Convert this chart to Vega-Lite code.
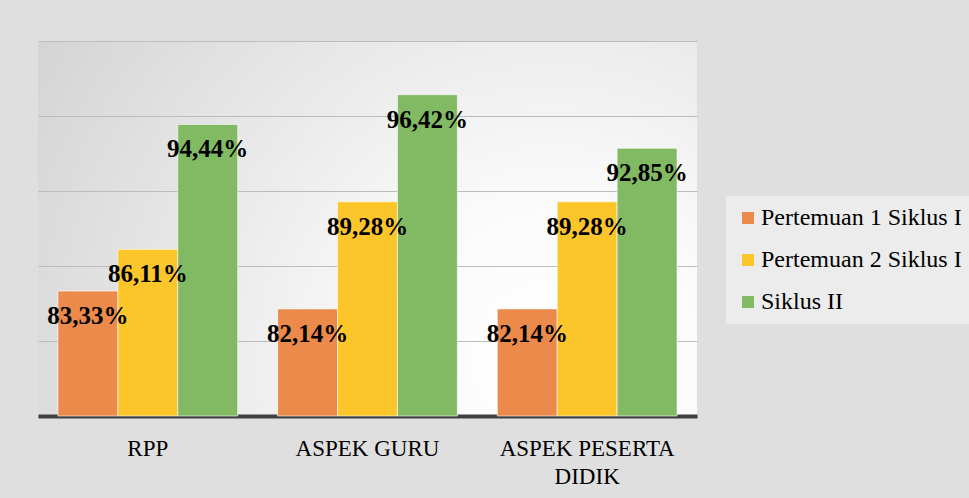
{
  "$schema": "https://vega.github.io/schema/vega-lite/v6.json",
  "width": 659,
  "height": 375,
  "autosize": {"type": "none"},
  "padding": {"left": 38, "top": 41, "right": 272, "bottom": 82},
  "background": "#dfdfdf",
  "view": {
    "stroke": null,
    "fill": {
      "gradient": "radial",
      "x1": 0.78, "y1": 0.7, "r1": 0,
      "x2": 0.78, "y2": 0.7, "r2": 0.95,
      "stops": [
        {"offset": 0, "color": "#ffffff"},
        {"offset": 0.25, "color": "#fbfbfb"},
        {"offset": 1, "color": "#d2d2d2"}
      ]
    }
  },
  "config": {"font": "Liberation Serif"},
  "data": {
    "values": [
      {"aspek": "RPP", "seri": "Pertemuan 1 Siklus I", "nilai": 83.33, "label": "83,33%"},
      {"aspek": "RPP", "seri": "Pertemuan 2 Siklus I", "nilai": 86.11, "label": "86,11%"},
      {"aspek": "RPP", "seri": "Siklus II", "nilai": 94.44, "label": "94,44%"},
      {"aspek": "ASPEK GURU", "seri": "Pertemuan 1 Siklus I", "nilai": 82.14, "label": "82,14%"},
      {"aspek": "ASPEK GURU", "seri": "Pertemuan 2 Siklus I", "nilai": 89.28, "label": "89,28%"},
      {"aspek": "ASPEK GURU", "seri": "Siklus II", "nilai": 96.42, "label": "96,42%"},
      {"aspek": "ASPEK PESERTA DIDIK", "seri": "Pertemuan 1 Siklus I", "nilai": 82.14, "label": "82,14%"},
      {"aspek": "ASPEK PESERTA DIDIK", "seri": "Pertemuan 2 Siklus I", "nilai": 89.28, "label": "89,28%"},
      {"aspek": "ASPEK PESERTA DIDIK", "seri": "Siklus II", "nilai": 92.85, "label": "92,85%"}
    ]
  },
  "encoding": {
    "x": {
      "field": "aspek", "type": "nominal", "sort": ["RPP", "ASPEK GURU", "ASPEK PESERTA DIDIK"],
      "scale": {"paddingInner": 0.1818, "paddingOuter": 0.0909},
      "axis": {
        "title": null, "domain": true, "domainColor": "#404040", "domainWidth": 4,
        "ticks": false, "grid": false,
        "labelAngle": 0, "labelFont": "Liberation Serif", "labelFontSize": 23,
        "labelColor": "#000000", "labelPadding": 21,
        "labelBaseline": "top", "labelLineHeight": 28,
        "labelExpr": "datum.value == 'ASPEK PESERTA DIDIK' ? ['ASPEK PESERTA', 'DIDIK'] : datum.label"
      }
    },
    "xOffset": {
      "field": "seri", "type": "nominal", "sort": ["Pertemuan 1 Siklus I", "Pertemuan 2 Siklus I", "Siklus II"],
      "scale": {"paddingInner": 0, "paddingOuter": 0}
    },
    "y": {
      "field": "nilai", "type": "quantitative",
      "scale": {"domain": [75, 100], "nice": false, "zero": false, "clamp": true},
      "axis": {
        "title": null, "labels": false, "ticks": false, "domain": false,
        "grid": true, "gridColor": "#bcbcbc", "gridWidth": 1.2,
        "values": [75, 80, 85, 90, 95, 100]
      }
    }
  },
  "layer": [
    {
      "mark": {"type": "bar", "stroke": "#ffffff", "strokeWidth": 1, "strokeOpacity": 0.6},
      "encoding": {
        "color": {
          "field": "seri", "type": "nominal", "sort": ["Pertemuan 1 Siklus I", "Pertemuan 2 Siklus I", "Siklus II"],
          "scale": {"range": ["#EC8A4B", "#FCC62A", "#82B963"]},
          "legend": {
            "title": null, "orient": "none", "legendX": 688, "legendY": 155,
            "symbolType": "square", "symbolSize": 144, "symbolStrokeWidth": 0,
            "labelFont": "Liberation Serif", "labelFontSize": 24, "labelColor": "#000000",
            "labelLimit": 400, "rowPadding": 18, "padding": 10,
            "fillColor": "rgba(255,255,255,0.4)", "labelOffset": 1
          }
        }
      }
    },
    {
      "mark": {"type": "text", "baseline": "middle", "align": "center", "dy": 25,
               "font": "Liberation Serif", "fontSize": 25, "fontWeight": "bold", "color": "#000000"},
      "encoding": {
        "text": {"field": "label"}
      }
    }
  ]
}
